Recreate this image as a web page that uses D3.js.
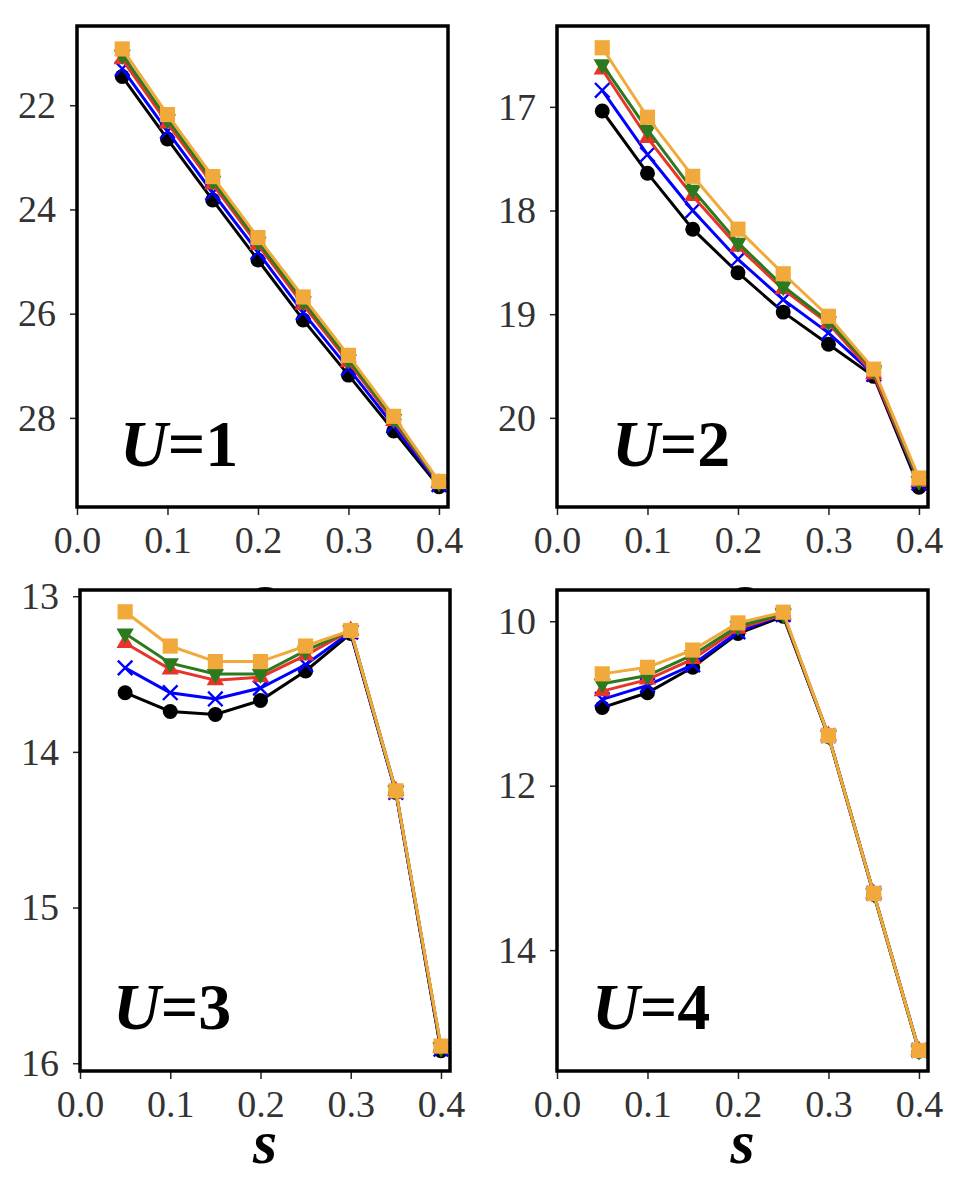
<!DOCTYPE html>
<html>
<head>
<meta charset="utf-8">
<script src="https://cdn.jsdelivr.net/npm/d3@7"></script>
<style>
  body { margin: 0; background: #fff; }
  svg text { font-family: "Liberation Serif", "Times New Roman", "DejaVu Serif", serif; }
</style>
</head>
<body>
<div id="plot"></div>
<script>
// x values shared by all panels
const sValues = [0.05, 0.10, 0.15, 0.20, 0.25, 0.30, 0.35, 0.40];
const xTicks = [0.0, 0.1, 0.2, 0.3, 0.4];

// series order: circle (black), cross (blue), triangle up (red), triangle down (green), square (orange)
const seriesKeys = ["circle", "cross", "triUp", "triDown", "square"];

// U=1
const u1Values = [
  [21.45, 22.65, 23.82, 24.97, 26.12, 27.18, 28.25, 29.32],
  [21.30, 22.50, 23.68, 24.82, 25.98, 27.05, 28.15, 29.28],
  [21.12, 22.35, 23.52, 24.68, 25.83, 26.93, 28.06, 29.25],
  [21.03, 22.27, 23.45, 24.62, 25.76, 26.88, 28.02, 29.24],
  [20.92, 22.18, 23.37, 24.54, 25.68, 26.80, 27.97, 29.22]
];
const u1Ticks = [22, 24, 26, 28];

// U=2
const u2Values = [
  [17.04, 17.64, 18.18, 18.60, 18.98, 19.29, 19.60, 20.67],
  [16.84, 17.46, 18.00, 18.47, 18.86, 19.18, 19.58, 20.63],
  [16.64, 17.30, 17.86, 18.35, 18.76, 19.09, 19.58, 20.62],
  [16.59, 17.22, 17.80, 18.31, 18.73, 19.07, 19.54, 20.61],
  [16.43, 17.10, 17.67, 18.18, 18.61, 19.02, 19.53, 20.58]
];
const u2Ticks = [17, 18, 19, 20];

// U=3
const u3Values = [
  [13.62, 13.74, 13.76, 13.67, 13.48, 13.24, 14.26, 15.92],
  [13.46, 13.62, 13.66, 13.59, 13.44, 13.23, 14.26, 15.91],
  [13.30, 13.47, 13.54, 13.52, 13.38, 13.22, 14.25, 15.90],
  [13.24, 13.43, 13.50, 13.50, 13.35, 13.22, 14.25, 15.90],
  [13.10, 13.32, 13.42, 13.42, 13.32, 13.22, 14.25, 15.89]
];
const u3Ticks = [13, 14, 15, 16];

// U=4
const u4Values = [
  [11.05, 10.87, 10.56, 10.15, 9.94, 11.40, 13.32, 15.23],
  [10.95, 10.78, 10.53, 10.13, 9.92, 11.39, 13.31, 15.22],
  [10.85, 10.71, 10.46, 10.09, 9.92, 11.39, 13.31, 15.22],
  [10.76, 10.66, 10.41, 10.06, 9.91, 11.39, 13.31, 15.22],
  [10.64, 10.56, 10.35, 10.02, 9.89, 11.39, 13.31, 15.22]
];
const u4Ticks = [10, 12, 14];

const panelLabels = ["1", "2", "3", "4"];

// styling
const colors = {
  circle: "#000000",
  cross: "#0000ff",
  triUp: "#e8342a",
  triDown: "#2b7a1e",
  square: "#f2a93b"
};

const serif = "'Liberation Serif', 'Times New Roman', 'DejaVu Serif', serif";

const width = 958;
const height = 1178;

const svg = d3.select("#plot")
  .append("svg")
  .attr("width", width)
  .attr("height", height);

// panel layout: frame box and y domain (axis is inverted: small values on top)
const panels = [
  { box: [77, 26, 448, 507], yDomain: [20.48, 29.71], values: u1Values, ticks: u1Ticks, label: panelLabels[0], labelX: 120, labelY: 466, xlabelY: 616 },
  { box: [557, 26, 928, 507], yDomain: [16.22, 20.86], values: u2Values, ticks: u2Ticks, label: panelLabels[1], labelX: 612, labelY: 466, xlabelY: 616 },
  { box: [80, 590, 450, 1071], yDomain: [12.96, 16.05], values: u3Values, ticks: u3Ticks, label: panelLabels[2], labelX: 113, labelY: 1029, xlabelY: 1163 },
  { box: [557, 590, 928, 1071], yDomain: [9.62, 15.47], values: u4Values, ticks: u4Ticks, label: panelLabels[3], labelX: 592, labelY: 1029, xlabelY: 1163 }
];

const markerSize = {
  circle: 175,
  cross: 140,
  triUp: 130,
  triDown: 130,
  square: 230
};

function drawPanel(p) {
  const [x0, y0, x1, y1] = p.box;
  const g = svg.append("g");

  // white background (hides whatever lies beneath, like the upper x label)
  g.append("rect")
    .attr("x", x0).attr("y", y0)
    .attr("width", x1 - x0).attr("height", y1 - y0)
    .attr("fill", "#fff");

  const x = d3.scaleLinear().domain([0, 0.41]).range([x0, x1]);
  const y = d3.scaleLinear().domain(p.yDomain).range([y0, y1]);

  // x axis
  const xAxis = g.append("g")
    .attr("transform", `translate(0,${y1})`)
    .call(d3.axisBottom(x).tickValues(xTicks).tickFormat(d3.format(".1f")).tickSize(8).tickPadding(11));
  // y axis
  const yAxis = g.append("g")
    .attr("transform", `translate(${x0},0)`)
    .call(d3.axisLeft(y).tickValues(p.ticks).tickFormat(d3.format("d")).tickSize(7).tickPadding(14));

  [xAxis, yAxis].forEach(a => {
    a.select(".domain").remove();
    a.selectAll(".tick line").attr("stroke", "#222").attr("stroke-width", 1.5);
    a.selectAll(".tick text")
      .attr("fill", "#333")
      .style("font-family", serif)
      .style("font-size", "38px");
  });

  const line = d3.line()
    .x((d, i) => x(sValues[i]))
    .y(d => y(d));

  p.values.forEach((vals, si) => {
    const key = seriesKeys[si];
    const color = colors[key];
    g.append("path")
      .datum(vals)
      .attr("d", line)
      .attr("fill", "none")
      .attr("stroke", color)
      .attr("stroke-width", 3);

    let symbolType = d3.symbolCircle;
    if (key === "cross") symbolType = d3.symbolTimes;
    if (key === "triUp" || key === "triDown") symbolType = d3.symbolTriangle;
    if (key === "square") symbolType = d3.symbolSquare;
    const sym = d3.symbol().type(symbolType).size(markerSize[key]);

    g.selectAll(null)
      .data(vals)
      .enter().append("path")
      .attr("d", sym)
      .attr("transform", (d, i) => `translate(${x(sValues[i])},${y(d)})` + (key === "triDown" ? " rotate(180)" : ""))
      .attr("fill", key === "cross" ? "none" : color)
      .attr("stroke", key === "cross" ? color : "none")
      .attr("stroke-width", key === "cross" ? 2.4 : 0);
  });

  // frame
  g.append("rect")
    .attr("x", x0).attr("y", y0)
    .attr("width", x1 - x0).attr("height", y1 - y0)
    .attr("fill", "none")
    .attr("stroke", "#000")
    .attr("stroke-width", 3.5);

  // U=k label
  const t = g.append("text")
    .attr("x", p.labelX)
    .attr("y", p.labelY)
    .style("font-size", "66px")
    .style("font-family", serif)
    .style("font-weight", "bold")
    .attr("fill", "#000");
  t.append("tspan").text("U").style("font-style", "italic");
  t.append("tspan").text("=");
  t.append("tspan").text(p.label);

  // x label
  svg.append("text")
    .attr("x", (x0 + x1) / 2)
    .attr("y", p.xlabelY)
    .attr("text-anchor", "middle")
    .style("font-size", "62px")
    .style("font-style", "italic")
    .style("font-weight", "bold")
    .style("font-family", serif)
    .attr("fill", "#000")
    .text("s");
}

// top row first so the bottom panels cover the top x labels
panels.forEach(drawPanel);
</script>
</body>
</html>
